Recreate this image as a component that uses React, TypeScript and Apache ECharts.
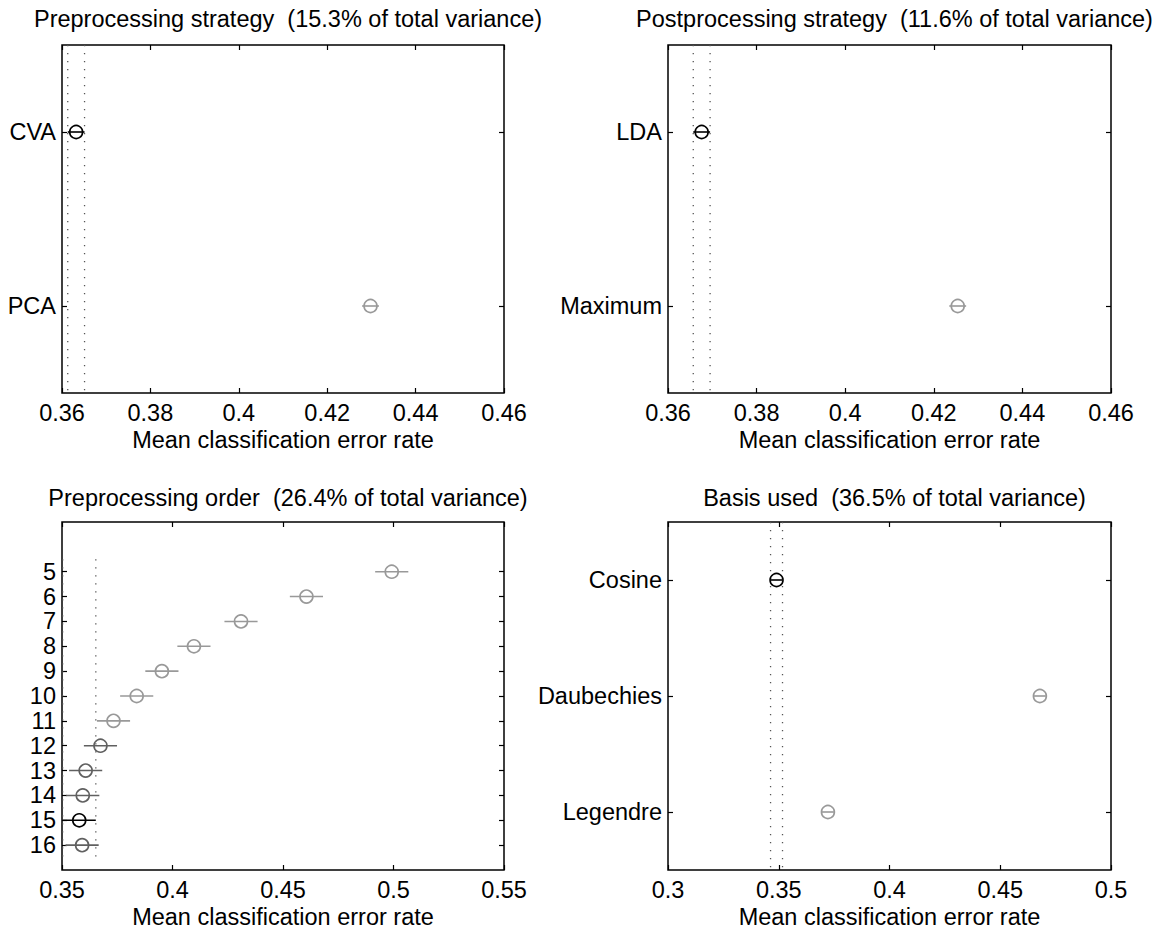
import React, { useEffect, useRef } from "react";
import * as echarts from "echarts";

// ---- data ----
const preCats = ["CVA", "PCA"];
const preMeans = [0.3632, 0.4298];
const preHalf = [0.0019, 0.0019];
const preGroup = [0, 1];

const postCats = ["LDA", "Maximum"];
const postMeans = [0.3676, 0.4254];
const postHalf = [0.0019, 0.0019];
const postGroup = [0, 1];

const orderCats = ["5", "6", "7", "8", "9", "10", "11", "12", "13", "14", "15", "16"];
const orderMeans = [0.4992, 0.4606, 0.431, 0.4097, 0.3952, 0.3838, 0.3733, 0.3674, 0.3607, 0.3594, 0.3578, 0.3591];
const orderHalf = [0.0075, 0.0075, 0.0075, 0.0075, 0.0075, 0.0075, 0.0075, 0.0075, 0.0075, 0.0075, 0.0075, 0.0075];
const orderGroup = [1, 1, 1, 1, 1, 1, 1, 2, 2, 2, 0, 2];

const basisCats = ["Cosine", "Daubechies", "Legendre"];
const basisMeans = [0.349, 0.4679, 0.3722];
const basisHalf = [0.0027, 0.0027, 0.0027];
const basisGroup = [0, 1, 1];

const titles = [
  "Preprocessing strategy  (15.3% of total variance)",
  "Postprocessing strategy  (11.6% of total variance)",
  "Preprocessing order  (26.4% of total variance)",
  "Basis used  (36.5% of total variance)",
];
const xMins = [0.36, 0.36, 0.35, 0.3];
const xMaxs = [0.46, 0.46, 0.55, 0.5];
const xSteps = [0.02, 0.02, 0.05, 0.05];
const yPadTop = [0.5, 0.5, 2, 0.5];
const yPadBottom = [0.5, 0.5, 1, 0.5];
const xName = "Mean classification error rate";

const FONT = "'Liberation Sans', Arial, Helvetica, sans-serif";
const FS = 23.5;
const groupColors = ["#000000", "#999999", "#606060"];

const panels = [
  { cats: preCats, means: preMeans, half: preHalf, group: preGroup },
  { cats: postCats, means: postMeans, half: postHalf, group: postGroup },
  { cats: orderCats, means: orderMeans, half: orderHalf, group: orderGroup },
  { cats: basisCats, means: basisMeans, half: basisHalf, group: basisGroup },
];

const grids = [
  { left: 62, top: 45, width: 442, height: 348 },
  { left: 668, top: 45, width: 443, height: 348 },
  { left: 62, top: 522, width: 442, height: 348 },
  { left: 668, top: 522, width: 443, height: 348 },
];

function buildOption() {
  const grid: any[] = [];
  const xAxis: any[] = [];
  const yAxis: any[] = [];
  const series: any[] = [];
  const title: any[] = [];

  const tickStyle = { color: "#000", width: 1.2 };

  panels.forEach((p, i) => {
    const g = grids[i];
    grid.push({
      ...g,
      show: true,
      borderColor: "#000",
      borderWidth: 1.5,
      backgroundColor: "#fff",
      containLabel: false,
    });
    title.push({
      text: titles[i],
      left: g.left + g.width / 2,
      top: i < 2 ? 2 : 481,
      textAlign: "center",
      textStyle: { fontFamily: FONT, fontSize: FS, fontWeight: "normal", color: "#000" },
    });
    const n = p.cats.length;
    const positions = p.cats.map((_, k) => k + 1);
    const yMin = 1 - yPadTop[i];
    const yMax = n + yPadBottom[i];
    const fmtX = (v: number) => String(parseFloat(v.toFixed(4)));
    // bottom x axis
    xAxis.push({
      type: "value",
      gridIndex: i,
      position: "bottom",
      min: xMins[i],
      max: xMaxs[i],
      interval: xSteps[i],
      axisLine: { show: false, onZero: false },
      axisTick: { show: true, inside: true, length: 5, lineStyle: tickStyle },
      splitLine: { show: false },
      axisLabel: {
        show: true,
        formatter: fmtX,
        margin: 8,
        fontFamily: FONT,
        fontSize: FS,
        color: "#000",
        showMinLabel: true,
        showMaxLabel: true,
      },
      name: xName,
      nameLocation: "middle",
      nameGap: 35,
      nameTextStyle: { fontFamily: FONT, fontSize: FS, color: "#000" },
    });
    // top x axis (ticks only)
    xAxis.push({
      type: "value",
      gridIndex: i,
      position: "top",
      min: xMins[i],
      max: xMaxs[i],
      interval: xSteps[i],
      axisLine: { show: false, onZero: false },
      axisTick: { show: true, inside: true, length: 5, lineStyle: tickStyle },
      splitLine: { show: false },
      axisLabel: { show: false },
    });
    const catsRef = p.cats;
    // left y axis
    yAxis.push({
      type: "value",
      gridIndex: i,
      position: "left",
      inverse: true,
      min: yMin,
      max: yMax,
      axisLine: { show: false, onZero: false },
      splitLine: { show: false },
      axisTick: {
        show: true,
        inside: true,
        length: 5,
        customValues: positions,
        lineStyle: tickStyle,
      },
      axisLabel: {
        show: true,
        customValues: positions,
        margin: 6,
        fontFamily: FONT,
        fontSize: FS,
        color: "#000",
        formatter: (v: number) => catsRef[Math.round(v) - 1] ?? "",
      },
    });
    // right y axis (ticks only)
    yAxis.push({
      type: "value",
      gridIndex: i,
      position: "right",
      inverse: true,
      min: yMin,
      max: yMax,
      axisLine: { show: false, onZero: false },
      splitLine: { show: false },
      axisTick: {
        show: true,
        inside: true,
        length: 5,
        customValues: positions,
        lineStyle: tickStyle,
      },
      axisLabel: { show: false, customValues: positions },
    });

    const xIdx = i * 2;
    const yIdx = i * 2;
    const groupRef = p.group;
    // error bars + circles
    series.push({
      type: "custom",
      xAxisIndex: xIdx,
      yAxisIndex: yIdx,
      silent: true,
      z: 5,
      data: p.means.map((m, k) => [m, k + 1, p.half[k]]),
      renderItem: (params: any, api: any) => {
        const x = api.value(0);
        const y = api.value(1);
        const h = api.value(2);
        const col = groupColors[groupRef[params.dataIndex]];
        const c = api.coord([x, y]);
        const l = api.coord([x - h, y]);
        const r = api.coord([x + h, y]);
        return {
          type: "group",
          children: [
            {
              type: "line",
              shape: { x1: l[0], y1: l[1], x2: r[0], y2: r[1] },
              style: { stroke: col, lineWidth: 1.6 },
            },
            {
              type: "circle",
              shape: { cx: c[0], cy: c[1], r: 6.5 },
              style: { fill: "none", stroke: col, lineWidth: 1.6 },
            },
          ],
        };
      },
    });
    // dotted reference lines from selected group interval
    const sel = p.group.indexOf(0);
    const lo = p.means[sel] - p.half[sel];
    const hi = p.means[sel] + p.half[sel];
    [lo, hi].forEach((xv) => {
      series.push({
        type: "line",
        xAxisIndex: xIdx,
        yAxisIndex: yIdx,
        silent: true,
        symbol: "none",
        z: 3,
        data: [
          [xv, 0.5],
          [xv, n + 0.5],
        ],
        lineStyle: { color: "#555", width: 1.3, type: [1.3, 6.7] },
      });
    });
  });

  return {
    animation: false,
    backgroundColor: "#fff",
    title,
    grid,
    xAxis,
    yAxis,
    series,
  };
}

export default function App() {
  const ref = useRef<HTMLDivElement>(null);
  useEffect(() => {
    if (!ref.current) return;
    const chart = echarts.init(ref.current, undefined, { renderer: "svg" });
    chart.setOption(buildOption() as any);
    return () => chart.dispose();
  }, []);
  return (
    <div
      ref={ref}
      style={{ position: "absolute", left: 0, top: 0, width: 1161, height: 932, background: "#fff" }}
    />
  );
}
